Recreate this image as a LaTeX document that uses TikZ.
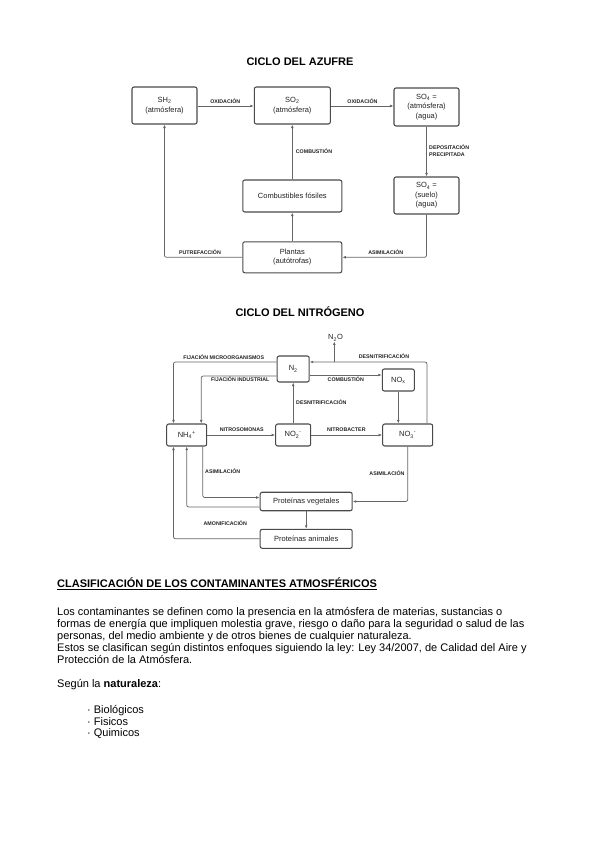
\documentclass[tikz,border=0pt]{standalone}
\usepackage{fontspec}
\setmainfont{Liberation Sans}
\usetikzlibrary{arrows.meta}
\definecolor{boxgray}{HTML}{4A4A4A}
\definecolor{linegray}{HTML}{666666}
\definecolor{txtgray}{HTML}{222222}
\tikzset{
 box/.style={draw=boxgray, line width=1.05pt, rounded corners=2pt, fill=white, align=center,
   font=\fontsize{7.5}{9.5}\selectfont, inner sep=0pt, text=txtgray},
 lbl/.style={font=\fontsize{5.3}{7.3}\bfseries\selectfont, inner sep=0pt, text=txtgray},
 conn/.style={draw=linegray, line width=0.75pt, rounded corners=2pt},
 arr/.style={conn, -{Latex[length=3.5pt,width=2.8pt]}},
 ttl/.style={font=\fontsize{11}{13}\bfseries\selectfont, inner sep=0pt},
 body/.style={font=\fontsize{11}{12}\selectfont, inner sep=0pt, anchor=base west},
}
\begin{document}
\begin{tikzpicture}[x=1pt,y=-1pt]
\useasboundingbox (0,0) rectangle (599,848);
% ---------- CICLO DEL AZUFRE ----------
\node[ttl] (t1) at (300,62) {CICLO DEL AZUFRE};
\node[box, minimum width=65pt, minimum height=37pt] (sh2) at (164.5,105.5) {SH\textsubscript{2}\\(atmósfera)};
\node[box, minimum width=76pt, minimum height=37pt] (so2) at (292.3,105.5) {SO\textsubscript{2}\\(atmósfera)};
\node[box, minimum width=65pt, minimum height=38pt] (so4a) at (426.5,107) {SO\textsubscript{4} =\\(atmósfera)\\(agua)};
\node[box, minimum width=65pt, minimum height=37pt] (so4s) at (426.5,195.5) {SO\textsubscript{4} =\\(suelo)\\(agua)};
\node[box, minimum width=99pt, minimum height=32pt] (comb) at (292.3,196) {Combustibles fósiles};
\node[box, minimum width=99pt, minimum height=31pt] (plan) at (292.3,257.3) {Plantas\\(autótrofas)};

\draw[arr] (sh2.east |- 0,106) coordinate (a1) -- (so2.west |- a1);
\draw[arr] (so2.east |- 0,106) coordinate (a2) -- (so4a.west |- a2);
\draw[arr] (so4a.south) -- (so4s.north);
\draw[arr] (comb.north) -- (so2.south);
\draw[arr] (plan.north) -- (comb.south);
\draw[arr] (so4s.south) |- (plan.east);
\draw[arr] (plan.west) -| (sh2.south);

\node[lbl] (l1) at (225.3,100.7) {OXIDACIÓN};
\node[lbl] (l2) at (362.5,100.7) {OXIDACIÓN};
\node[lbl, anchor=west] (l3) at (295.7,150.7) {COMBUSTIÓN};
\node[lbl, anchor=west, align=left] (l4) at (429,150.5) {DEPOSITACIÓN\\PRECIPITADA};
\node[lbl] (l5) at (200,251.7) {PUTREFACCIÓN};
\node[lbl] (l6) at (385.8,251.7) {ASIMILACIÓN};

% ---------- CICLO DEL NITROGENO ----------
\node[ttl] (t2) at (300,312) {CICLO DEL NITRÓGENO};
\node[box, minimum width=32pt, minimum height=26pt] (n2) at (293.2,369) {N\textsubscript{2}};
\node[box, minimum width=32pt, minimum height=22pt] (nox) at (398.3,380) {NO\textsubscript{x}};
\node[box, minimum width=50pt, minimum height=22pt] (no3) at (407.7,435) {NO\textsubscript{3}\textsuperscript{-}};
\node[box, minimum width=35pt, minimum height=22pt] (no2) at (293.2,435) {NO\textsubscript{2}\textsuperscript{-}};
\node[box, minimum width=40pt, minimum height=22pt] (nh4) at (186.7,435) {NH\textsubscript{4}\textsuperscript{+}};
\node[box, minimum width=92pt, minimum height=18.5pt] (pveg) at (306.2,501.5) {Proteínas vegetales};
\node[box, minimum width=92pt, minimum height=19pt] (pani) at (306.2,538.8) {Proteínas animales};
\node[inner sep=0pt, font=\fontsize{7.5}{9}\selectfont, text=txtgray] (n2o) at (335.5,338) {N\textsubscript{2}O};

\coordinate (d1) at (427,362);
\coordinate (d2) at (334.3,362);
\draw[arr] (no3.north -| d1) |- (n2.east |- d1);
\draw[arr] (d2) -- (d2 |- n2o.south);
\draw[arr] ([yshift=-6pt]n2.east) coordinate (c1) -- (nox.west |- c1);
\draw[arr] (nox.south) -- (nox.south |- no3.north);
\draw[arr] (nh4.east) -- (no2.west);
\draw[arr] (no2.east) -- (no3.west);
\draw[arr] (no2.north) -- (n2.south);
\draw[arr] ([yshift=7pt]n2.west) -| ([xshift=7.3pt]nh4.north west);
\draw[arr] ([yshift=-7pt]n2.west) -| ([xshift=-6pt]nh4.north east);
\draw[arr] ([xshift=-4.4pt]nh4.south east) |- ([yshift=4pt]pveg.west);
\draw[arr] (no3.south) |- (pveg.east);
\draw[arr] ([yshift=-5.5pt]pveg.west) -| (nh4.south);
\draw[arr] (pveg.south) -- (pani.north);
\draw[arr] (pani.west) -| ([xshift=7.3pt]nh4.south west);

\node[lbl] (m1) at (223.8,357.3) {FIJACIÓN MICROORGANISMOS};
\node[lbl] (m2) at (240.3,379.3) {FIJACIÓN INDUSTRIAL};
\node[lbl] (m3) at (384,356.3) {DESNITRIFICACIÓN};
\node[lbl] (m4) at (345.8,379.3) {COMBUSTIÓN};
\node[lbl, anchor=west] (m5) at (296,401.7) {DESNITRIFICACIÓN};
\node[lbl] (m6) at (241.7,430) {NITROSOMONAS};
\node[lbl] (m7) at (346.3,430) {NITROBACTER};
\node[lbl] (m8) at (222.7,471) {ASIMILACIÓN};
\node[lbl] (m9) at (387,473.3) {ASIMILACIÓN};
\node[lbl] (m10) at (225.3,522.7) {AMONIFICACIÓN};

% ---------- TEXTO ----------
\node[body, font=\fontsize{11}{12}\bfseries\selectfont] (h) at (57,587.5) {\underline{CLASIFICACIÓN DE LOS CONTAMINANTES ATMOSFÉRICOS}};
\node[body] (p1) at (57,615.5) {Los contaminantes se definen como la presencia en la atmósfera de materias, sustancias o};
\node[body] (p2) at (57,627.5) {formas de energía que impliquen molestia grave, riesgo o daño para la seguridad o salud de las};
\node[body] (p3) at (57,639.5) {personas, del medio ambiente y de otros bienes de cualquier naturaleza.};
\node[body] (p4) at (57,651.5) {Estos se clasifican según distintos enfoques siguiendo la ley: Ley 34/2007, de Calidad del Aire y};
\node[body] (p5) at (57,663.5) {Protección de la Atmósfera.};
\node[body] (s) at (57,687.5) {Según la \textbf{naturaleza}:};
\node[body] (b1) at (87,713.5) {·\hspace{3pt}Biológicos};
\node[body] (b2) at (87,725) {·\hspace{3pt}Fisicos};
\node[body] (b3) at (87,736.5) {·\hspace{3pt}Quimicos};
\end{tikzpicture}
\end{document}
